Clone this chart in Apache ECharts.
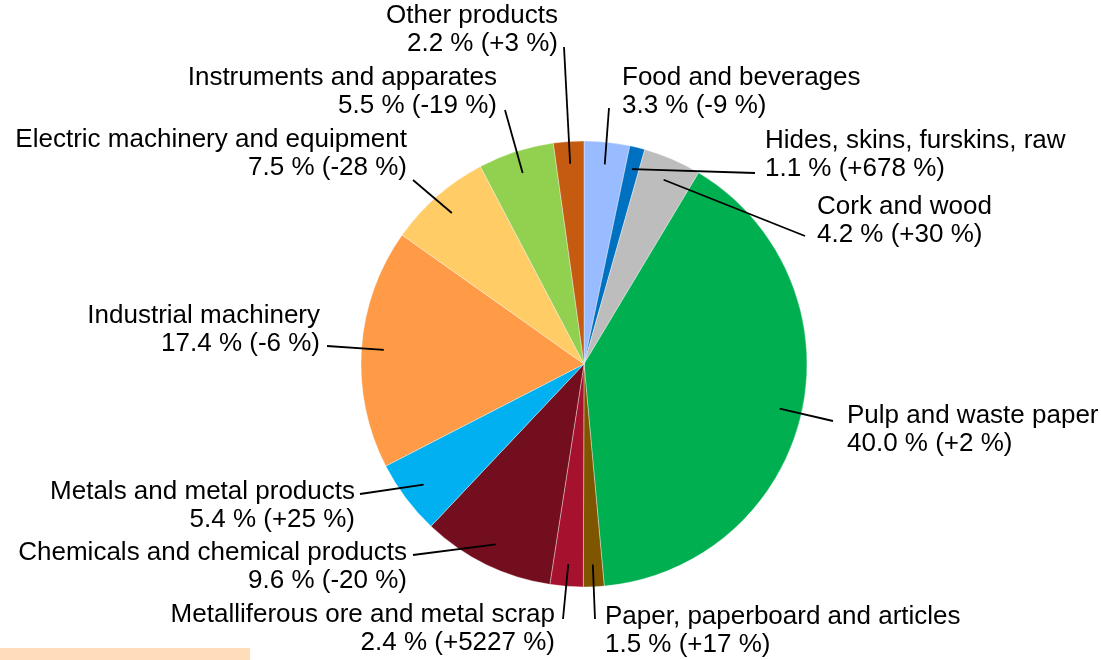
<!DOCTYPE html>
<html><head><meta charset="utf-8">
<script src="https://cdn.jsdelivr.net/npm/echarts@6/dist/echarts.min.js"></script>
<style>html,body{margin:0;padding:0;background:#fff}#c{width:1101px;height:660px}</style>
</head><body><div id="c"></div>
<script>
const categories = ['Food and beverages','Hides, skins, furskins, raw','Cork and wood','Pulp and waste paper','Paper, paperboard and articles','Metalliferous ore and metal scrap','Chemicals and chemical products','Metals and metal products','Industrial machinery','Electric machinery and equipment','Instruments and apparates','Other products'];
const shares = [3.3, 1.1, 4.2, 40.0, 1.5, 2.4, 9.6, 5.4, 17.4, 7.5, 5.5, 2.2];
const changes = [-9, 678, 30, 2, 17, 5227, -20, 25, -6, -28, -19, 3];
const colors = ['#99BBFF','#0070C0','#BCBDBC','#00B050','#7F5500','#A6122D','#730E1E','#00B0F0','#FF9A46','#FFCC66','#92D050','#C55A11'];

// label layout: [align, x, y(center of block), leader end x, leader end y]
const labelPos = [
  ['left', 622, 92, 609, 108],
  ['left', 765, 155, 755, 173],
  ['left', 817, 221, 805, 236],
  ['left', 847, 430, 833, 421],
  ['left', 605, 631, 595, 619],
  ['right', 555, 629, 563, 619],
  ['right', 407, 567, 413, 555],
  ['right', 355, 506, 360, 494],
  ['right', 320, 330, 327, 346],
  ['right', 407, 154, 413, 180],
  ['right', 497, 92, 505, 110],
  ['right', 558, 30, 564, 47]
];
const CX = 584, CY = 364, R = 223;

const total = shares.reduce((a, b) => a + b, 0);
const cum = [];
shares.reduce((acc, v, i) => { cum[i] = acc; return acc + v; }, 0);

function fmtChange(c) { return (c > 0 ? '+' : '') + c; }

// leader lines: from the slice's mid angle at 0.9 R to the label
const leaders = shares.map((v, i) => {
  const mid = (cum[i] + v / 2) / total * Math.PI * 2;
  const ir = R * 0.9;
  return {
    type: 'polyline', z: 100, silent: true,
    shape: {points: [[CX + ir * Math.sin(mid), CY - ir * Math.cos(mid)], [labelPos[i][3], labelPos[i][4]]]},
    style: {stroke: '#000', lineWidth: 1.8, fill: null}
  };
});

const chart = echarts.init(document.getElementById('c'), null, {renderer: 'canvas'});
chart.setOption({
  animation: false,
  backgroundColor: '#fff',
  graphic: [{
    type: 'rect', left: 0, top: 648, shape: {width: 250, height: 12},
    style: {fill: '#FFDDBB'}
  }].concat(leaders),
  series: [{
    type: 'pie',
    center: [CX, CY],
    radius: R,
    startAngle: 90,
    clockwise: true,
    avoidLabelOverlap: false,
    itemStyle: {borderColor: 'rgba(255,255,255,0.6)', borderWidth: 0.6},
    emphasis: {disabled: true},
    label: {
      show: true,
      position: 'outside',
      fontFamily: '"Liberation Sans", Arial, sans-serif',
      fontSize: 26,
      lineHeight: 28,
      color: '#000',
      formatter: p => categories[p.dataIndex] + '\n' + shares[p.dataIndex].toFixed(1) + ' % (' + fmtChange(changes[p.dataIndex]) + ' %)'
    },
    labelLine: {show: false},
    labelLayout: function (params) {
      const lp = labelPos[params.dataIndex];
      return {x: lp[1], y: lp[2], align: lp[0], verticalAlign: 'middle'};
    },
    data: categories.map((n, i) => ({name: n, value: shares[i], itemStyle: {color: colors[i]}}))
  }]
});
</script></body></html>
